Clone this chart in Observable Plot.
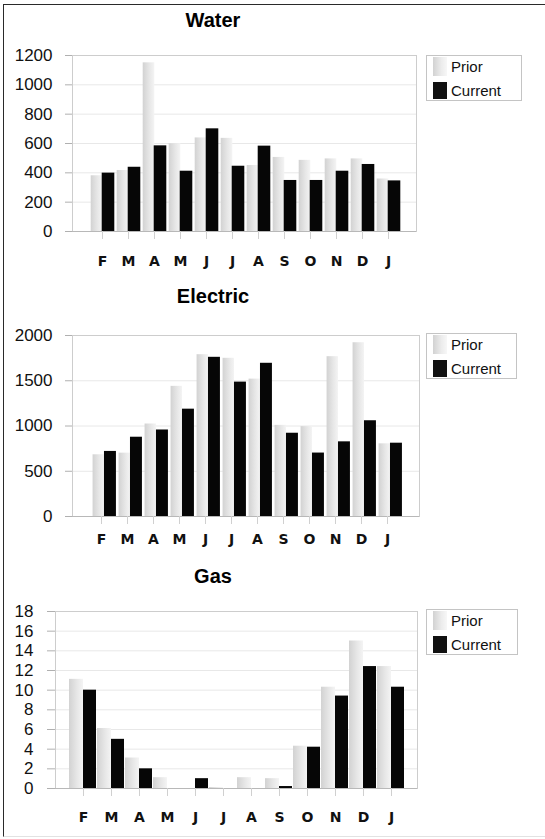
<!DOCTYPE html>
<html><head><meta charset="utf-8">
<script src="https://cdn.jsdelivr.net/npm/d3@7"></script>
<script src="https://cdn.jsdelivr.net/npm/@observablehq/plot@0.6"></script>
<style>
body{margin:0;background:#fff;}
#wrap{position:relative;width:545px;height:839px;overflow:hidden;font-family:"Liberation Sans",Arial,sans-serif;background:#fff;}
#border{position:absolute;left:3px;top:4px;width:545px;height:833px;box-sizing:border-box;border-left:1.6px solid #2a2a2a;border-top:1.6px solid #2a2a2a;border-bottom:1px solid #e2e2e2;pointer-events:none;z-index:5;}
.panel{position:absolute;left:0;width:545px;}
.panel svg{position:absolute;left:0;top:0;}
.title{position:absolute;left:0;width:426px;text-align:center;font-weight:bold;font-size:20px;line-height:20px;color:#000;}
.legend{position:absolute;box-sizing:border-box;border:1px solid #c4c4c4;background:#fff;}
.sw{position:absolute;}
.lt{position:absolute;font-size:15px;line-height:15px;color:#111;white-space:nowrap;}
</style></head>
<body>
<svg width="0" height="0" style="position:absolute">
<defs>
<linearGradient id="priorGrad" x1="0" x2="1" y1="0" y2="0">
<stop offset="0" stop-color="#d2d2d2"/>
<stop offset="0.55" stop-color="#e6e6e6"/>
<stop offset="1" stop-color="#f4f4f4"/>
</linearGradient>
</defs>
</svg>
<div id="wrap"><div id="border"></div></div>
<script>
const months = ["F","M","A","M","J","J","A","S","O","N","D","J"];
const seriesNames = ["Prior","Current"];

const waterPrior   = [380, 416, 1150, 598, 638, 635, 450, 505, 485, 495, 495, 358];
const waterCurrent = [398, 438, 584, 411, 700, 445, 582, 348, 348, 411, 457, 345];
const waterTicks   = [0, 200, 400, 600, 800, 1000, 1200];

const electricPrior   = [682, 700, 1022, 1438, 1788, 1748, 1518, 1007, 993, 1766, 1920, 803];
const electricCurrent = [719, 876, 956, 1186, 1759, 1485, 1693, 920, 701, 825, 1058, 810];
const electricTicks   = [0, 500, 1000, 1500, 2000];

const gasPrior   = [11.1, 6.1, 3.1, 1.1, 0, 0.1, 1.1, 1.0, 4.3, 10.3, 15.0, 12.4];
const gasCurrent = [10.0, 5.0, 2.0, 0, 1.0, 0, 0, 0.2, 4.2, 9.4, 12.4, 10.3];
const gasTicks   = [0, 2, 4, 6, 8, 10, 12, 14, 16, 18];

const idx = months.map((_, i) => i);
const wrap = document.getElementById("wrap");

function panel(cfg) {
  const div = document.createElement("div");
  div.className = "panel";
  div.style.top = cfg.offset + "px";
  div.style.height = cfg.height + "px";
  wrap.appendChild(div);

  const prior = idx.map(i => ({i, v: cfg.prior[i]}));
  const current = idx.map(i => ({i, v: cfg.current[i]}));
  const b = (cfg.x2 - cfg.x1) / 12;

  const svg = Plot.plot({
    width: 545,
    height: cfg.height,
    marginLeft: cfg.frameL,
    marginRight: 545 - cfg.frameR,
    marginTop: cfg.top,
    marginBottom: cfg.height - cfg.zero,
    style: {background: "transparent", overflow: "visible"},
    x: {type: "band", domain: idx, range: [cfg.x1, cfg.x2], padding: 0},
    y: {domain: [0, cfg.ticks[cfg.ticks.length - 1]]},
    marks: [
      Plot.gridY(cfg.ticks, {stroke: "#e8e8e8", strokeOpacity: 1}),
      Plot.frame({stroke: "#cdcdcd"}),
      Plot.barY(prior, {x: "i", y: "v", fill: "url(#priorGrad)",
        insetLeft: b / 2 - cfg.pw + cfg.ov, insetRight: b / 2 - cfg.ov}),
      Plot.barY(current, {x: "i", y: "v", fill: "#060606",
        insetLeft: b / 2 - cfg.ov, insetRight: b / 2 - cfg.cw + cfg.ov}),
      Plot.ruleY([0], {stroke: "#b8b8b8"}),
      Plot.axisY({ticks: cfg.ticks, tickSize: cfg.ytick, tickPadding: cfg.ypad,
        tickFormat: d => String(d),
        stroke: "#b0b0b0", fill: "#111", fontSize: 17,
        fontFamily: "'Liberation Sans', Arial, sans-serif", label: null}),
      Plot.axisX({tickSize: 8, tickPadding: cfg.xpad, tickFormat: i => months[i],
        stroke: "#d0d0d0", fill: "#111", fontSize: 14, fontWeight: "bold", dx: cfg.xdx || 0,
        fontFamily: "'DejaVu Sans', sans-serif", label: null})
    ]
  });
  div.appendChild(svg);

  const t = document.createElement("div");
  t.className = "title";
  t.textContent = cfg.title;
  t.style.top = cfg.titleTop + "px";
  div.appendChild(t);

  const L = cfg.legTop;
  const leg = document.createElement("div");
  leg.className = "legend";
  leg.style.left = "426px";
  leg.style.top = L + "px";
  leg.style.width = cfg.legW + "px";
  leg.style.height = "46px";
  div.appendChild(leg);
  const items = [
    {name: seriesNames[0], bg: "linear-gradient(90deg,#d2d2d2,#ececec 60%,#f7f7f7)", st: 2, sh: 19, bl: 17},
    {name: seriesNames[1], bg: "#111", st: 27, sh: 17, bl: 41}
  ];
  for (const it of items) {
    const sw = document.createElement("div");
    sw.className = "sw";
    sw.style.left = "6px";
    sw.style.top = (it.st - 1) + "px";
    sw.style.width = "14px";
    sw.style.height = it.sh + "px";
    sw.style.background = it.bg;
    leg.appendChild(sw);
    const tx = document.createElement("div");
    tx.className = "lt";
    tx.style.left = "24px";
    tx.style.top = (it.bl - 1 - 12.7) + "px";
    tx.textContent = it.name;
    leg.appendChild(tx);
  }
}

panel({title: "Water", offset: 0, height: 280, top: 55, zero: 231, frameL: 72, frameR: 416,
  x1: 86.3, x2: 403.2, prior: waterPrior, current: waterCurrent, ticks: waterTicks,
  ytick: 7, ypad: 13, xpad: 17, pw: 12, cw: 13, ov: 0.5, titleTop: 9.7, legTop: 55, legW: 96});
panel({title: "Electric", offset: 280, height: 280, top: 55, zero: 236, frameL: 72, frameR: 419,
  x1: 87.7, x2: 406.3, prior: electricPrior, current: electricCurrent, ticks: electricTicks,
  ytick: 7, ypad: 13, xpad: 10, xdx: -3, pw: 12, cw: 12.5, ov: 0.3, titleTop: 6, legTop: 53, legW: 91});
panel({title: "Gas", offset: 560, height: 279, top: 51, zero: 228, frameL: 55, frameR: 417,
  x1: 69, x2: 405, prior: gasPrior, current: gasCurrent, ticks: gasTicks,
  ytick: 8, ypad: 14, xpad: 16, pw: 14, cw: 13, ov: 0, titleTop: 6, legTop: 49, legW: 92});
</script>
</body></html>
